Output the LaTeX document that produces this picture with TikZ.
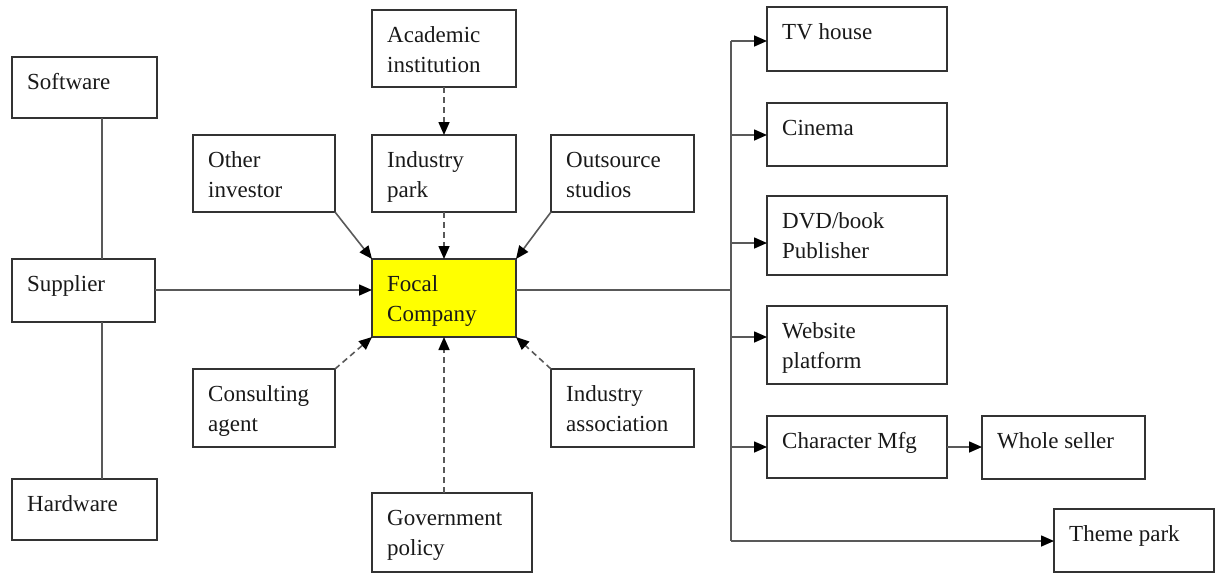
\documentclass[tikz,border=0pt]{standalone}
\usepackage{fontspec}
\setmainfont{Liberation Serif}
\usetikzlibrary{arrows.meta}

\definecolor{focalyellow}{RGB}{255,255,0}

\tikzset{
  box/.style={draw=black!80, line width=1.5pt, anchor=north west, inner sep=0pt, outer sep=0pt},
  txt/.style={anchor=base west, inner sep=0pt, font=\fontsize{23}{30}\selectfont, text=black!90},
  link/.style={draw=black!65, line width=1.6pt},
  arr/.style={link, -{Triangle[length=13pt,width=11pt,color=black]}},
  dsh/.style={arr, dash pattern=on 6pt off 4pt},
}

% box: name, left, top, right, bottom, text (top-left aligned)
\newcommand{\bx}[7][]{%
  \node[box, #1, minimum width={(#5-#3)*1pt}, minimum height={(#6-#4)*1pt}] (#2) at (#3,#4) {};
  \node[txt] (#2-t) at ([shift={(15,32)}]#2.north west) {\parbox[t]{7cm}{\raggedright #7}};
}

\begin{document}
\begin{tikzpicture}[x=1pt, y=-1pt]
\useasboundingbox (0,0) rectangle (1216,574);

% suppliers
\bx{sw}{12}{57}{157}{118}{Software}
\bx{sup}{12}{259}{155}{322}{Supplier}
\bx{hw}{12}{479}{157}{540}{Hardware}

% support network round the focal company
\bx{oi}{193}{135}{335}{212}{Other\\investor}
\bx{ac}{372}{10}{516}{87}{Academic\\institution}
\bx{ip}{372}{135}{516}{212}{Industry\\park}
\bx{os}{551}{135}{694}{212}{Outsource\\studios}
\bx[fill=focalyellow]{foc}{372}{259}{516}{337}{Focal\\Company}
\bx{ca}{193}{369}{335}{447}{Consulting\\agent}
\bx{ia}{551}{369}{694}{447}{Industry\\association}
\bx{gov}{372}{493}{532}{572}{Government\\policy}

% distribution channels
\bx{tv}{767}{7}{947}{71}{TV house}
\bx{cin}{767}{103}{947}{166}{Cinema}
\bx{dvd}{767}{196}{947}{275}{DVD/book\\Publisher}
\bx{web}{767}{306}{947}{384}{Website\\platform}
\bx{chr}{767}{416}{947}{478}{Character Mfg}
\bx{whs}{982}{416}{1145}{479}{Whole seller}
\bx{thm}{1054}{509}{1214}{572}{Theme park}

% supplier column
\coordinate (lx) at (102,0);
\draw[link] (sw.south -| lx) -- (sup.north -| lx);
\draw[link] (sup.south -| lx) -- (hw.north -| lx);

% inputs to the focal company
\coordinate (mid) at (0,290);
\draw[arr] (sup.east |- mid) -- (foc.west |- mid);
\draw[arr] (oi.south east) -- (foc.north west);
\draw[arr] (os.south west) -- (foc.north east);
\draw[dsh] (ac.south) -- (ip.north);
\draw[dsh] (ip.south) -- (foc.north);
\draw[dsh] (ca.north east) -- (foc.south west);
\draw[dsh] (ia.north west) -- (foc.south east);
\draw[dsh] (gov.north -| foc.south) -- (foc.south);

% output trunk
\coordinate (tk) at (731,290);
\coordinate (tTV) at (731,41);
\coordinate (tCin) at (731,135);
\coordinate (tDvd) at (731,243);
\coordinate (tWeb) at (731,337);
\coordinate (tChr) at (731,447);
\coordinate (tThm) at (731,541);
\draw[link] (foc.east |- mid) -- (tk);
\draw[link] (tTV) -- (tThm);
\draw[arr] (tTV) -- (tv.west |- tTV);
\draw[arr] (tCin) -- (cin.west |- tCin);
\draw[arr] (tDvd) -- (dvd.west |- tDvd);
\draw[arr] (tWeb) -- (web.west |- tWeb);
\draw[arr] (tChr) -- (chr.west |- tChr);
\draw[arr] (tThm) -- (thm.west |- tThm);
\draw[arr] (chr.east |- tChr) -- (whs.west |- tChr);
\end{tikzpicture}
\end{document}
